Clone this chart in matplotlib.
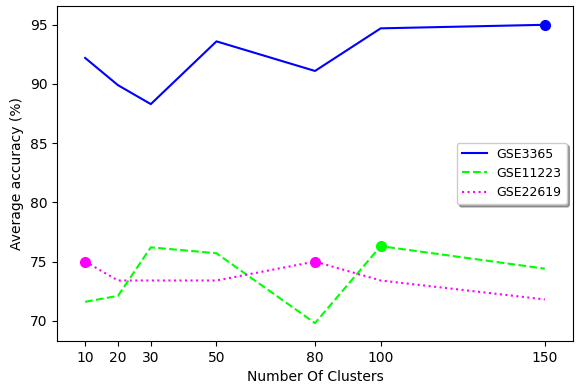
import numpy as np
import matplotlib
matplotlib.use('Agg')
import matplotlib.pyplot as plt

clusters = [10, 20, 30, 50, 80, 100, 150]
gse3365 = [92.2, 89.9, 88.3, 93.6, 91.1, 94.7, 95.0]
gse11223 = [71.6, 72.1, 76.2, 75.7, 69.8, 76.3, 74.4]
gse22619 = [75.0, 73.4, 73.4, 73.4, 75.0, 73.4, 71.8]

series = [
    ('GSE3365', gse3365, 'blue', '-'),
    ('GSE11223', gse11223, 'lime', '--'),
    ('GSE22619', gse22619, 'magenta', ':'),
]

fig = plt.figure(figsize=(5.78, 3.9), dpi=100)
ax = fig.add_axes([0.099, 0.126, 0.892, 0.859])

for name, vals, col, ls in series:
    ax.plot(clusters, vals, color=col, linestyle=ls, linewidth=1.5, label=name)
    # mark the best value(s)
    best = max(vals)
    xs = [c for c, v in zip(clusters, vals) if v == best]
    ax.plot(xs, [best] * len(xs), 'o', color=col, markersize=7)

ax.set_xlim(1.5, 158.5)
ax.set_ylim(68.3, 96.6)
ax.set_xticks(clusters)
ax.set_yticks([70, 75, 80, 85, 90, 95])
ax.set_xlabel('Number Of Clusters')
ax.set_ylabel('Average accuracy (%)')
ax.legend(loc='center right', shadow=True, fontsize=9)

fig.savefig('out.png', dpi=100)
